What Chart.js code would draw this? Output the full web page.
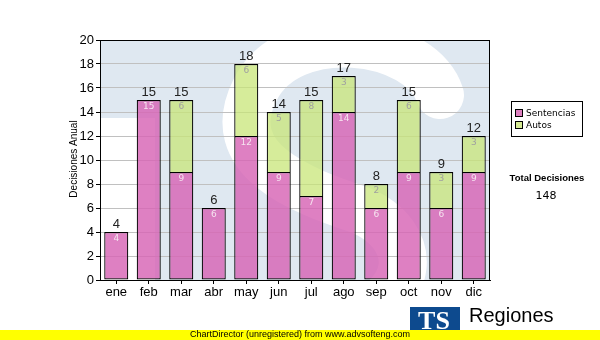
<!DOCTYPE html>
<html>
<head>
<meta charset="utf-8">
<script src="https://cdn.jsdelivr.net/npm/chart.js@4.4.1/dist/chart.umd.min.js"></script>
<style>
  html, body { margin: 0; padding: 0; background: #fff; }
  #wrap { width: 600px; height: 340px; position: relative; }
</style>
</head>
<body>
<div id="wrap"><canvas id="barchart" width="600" height="340"></canvas></div>
<script>
// datos del grafico
var meses = ['ene', 'feb', 'mar', 'abr', 'may', 'jun', 'jul', 'ago', 'sep', 'oct', 'nov', 'dic'];
var sentencias = [4, 15, 9, 6, 12, 9, 7, 14, 6, 9, 6, 9];
var autos = [0, 0, 6, 0, 6, 5, 8, 3, 2, 6, 3, 3];
var yTicks = [0, 2, 4, 6, 8, 10, 12, 14, 16, 18, 20];
var totalDecisiones = 148;

var ctx = document.getElementById('barchart').getContext('2d');

// fondo con la "S" de marca de agua
var fondoPlugin = {
    id: 'fondo',
    beforeDraw: function (chart) {
        var c = chart.ctx, a = chart.chartArea;
        c.save();
        c.beginPath();
        c.rect(a.left, a.top, a.right - a.left, a.bottom - a.top);
        c.clip();
        c.fillStyle = '#dfe8f1';
        c.fillRect(a.left, a.top, a.right - a.left, 78);
        c.fillRect(a.left + 55, a.top + 78, a.right - a.left - 55, a.bottom - a.top - 78);
        c.fillStyle = '#fff';
        c.fillRect(a.left, a.top + 78, 55, a.bottom - a.top - 78);
        // trazo de la S
        c.strokeStyle = '#fff';
        c.lineWidth = 48;
        c.lineCap = 'round';
        c.beginPath();
        c.moveTo(440, 95);
        c.bezierCurveTo(420, 35, 290, 20, 255, 90);
        c.bezierCurveTo(220, 160, 300, 190, 360, 210);
        c.bezierCurveTo(420, 235, 420, 300, 340, 320);
        c.stroke();
        c.restore();
    }
};

// etiquetas, borde, leyenda y textos sueltos
var textosPlugin = {
    id: 'textos',
    afterDraw: function (chart) {
        var c = chart.ctx, a = chart.chartArea;
        var m0 = chart.getDatasetMeta(0), m1 = chart.getDatasetMeta(1);
        c.save();
        c.textAlign = 'center';
        c.textBaseline = 'middle';
        for (var i = 0; i < meses.length; i++) {
            var b0 = m0.data[i], b1 = m1.data[i];
            c.font = '9px "DejaVu Sans"';
            if (sentencias[i] > 0) {
                c.fillStyle = '#f6e4f0';
                c.fillText(sentencias[i], b0.x, b0.y + 7);
            }
            if (autos[i] > 0) {
                c.fillStyle = '#a0a0a0';
                c.fillText(autos[i], b1.x, b1.y + 7);
            }
            var top = autos[i] > 0 ? b1.y : b0.y;
            c.font = '13px "Liberation Sans"';
            c.fillStyle = '#222';
            c.fillText(sentencias[i] + autos[i], b0.x, top - 8);
        }
        // borde del area
        c.strokeStyle = '#000';
        c.lineWidth = 1;
        c.strokeRect(a.left + 0.5, a.top + 0.5, a.right - a.left - 1, a.bottom - a.top);

        // titulo eje y
        c.save();
        c.translate(74, 159);
        c.rotate(-Math.PI / 2);
        c.font = '10px "Liberation Sans"';
        c.fillStyle = '#000';
        c.fillText('Decisiones Anual', 0, 0);
        c.restore();

        // leyenda
        c.strokeStyle = '#000';
        c.strokeRect(511.5, 101.5, 71, 35);
        c.textAlign = 'left';
        c.font = '9px "DejaVu Sans"';
        c.fillStyle = '#dd7fbf';
        c.fillRect(515, 109, 8, 8);
        c.strokeRect(515.5, 109.5, 7, 7);
        c.fillStyle = '#d6eb94';
        c.fillRect(515, 121, 8, 8);
        c.strokeRect(515.5, 121.5, 7, 7);
        c.fillStyle = '#000';
        c.fillText('Sentencias', 526, 113.5);
        c.fillText('Autos', 526, 125.5);

        // total
        c.textAlign = 'center';
        c.font = 'bold 9.5px "Liberation Sans"';
        c.fillText('Total Decisiones', 547, 178);
        c.font = '11px "DejaVu Sans"';
        c.fillText(totalDecisiones, 546, 196);

        // logo
        c.fillStyle = '#0d4a8e';
        c.fillRect(410, 307, 50, 25);
        c.fillStyle = '#fff';
        c.font = 'bold 26px "Liberation Serif"';
        c.fillText('TS', 434, 322);
        c.textAlign = 'left';
        c.fillStyle = '#000';
        c.font = '20px "Liberation Sans"';
        c.fillText('Regiones', 469, 316);

        // franja amarilla
        c.fillStyle = '#ffff00';
        c.fillRect(0, 330, 600, 10);
        c.fillStyle = '#000';
        c.font = '9px "Liberation Sans"';
        c.fillText('ChartDirector (unregistered) from www.advsofteng.com', 190, 335);
        c.restore();
    }
};

var myBarChart = new Chart(ctx, {
    type: 'bar',
    data: {
        labels: meses,
        datasets: [{
            label: 'Sentencias',
            data: sentencias,
            backgroundColor: 'rgba(215,100,180,0.82)',
            borderColor: '#000',
            borderWidth: 1.2,
            borderSkipped: false
        }, {
            label: 'Autos',
            data: autos,
            backgroundColor: 'rgba(200,230,120,0.75)',
            borderColor: '#000',
            borderWidth: 1.2,
            borderSkipped: 'bottom'
        }]
    },
    options: {
        responsive: false,
        maintainAspectRatio: false,
        animation: false,
        layout: { padding: { left: 0, right: 110, top: 40, bottom: 40 } },
        datasets: { bar: { categoryPercentage: 1, barPercentage: 0.74 } },
        plugins: {
            legend: { display: false },
            tooltip: { enabled: false }
        },
        scales: {
            x: {
                stacked: true,
                afterFit: function (s) { s.height = 20; },
                grid: { offset: false, drawOnChartArea: false, tickLength: 4, tickColor: '#000' },
                border: { color: '#000' },
                ticks: { color: '#000', padding: 1, font: { family: 'Liberation Sans', size: 13 } }
            },
            y: {
                stacked: true,
                min: 0,
                max: 20,
                afterFit: function (s) { s.width = 100; },
                afterBuildTicks: function (s) { s.ticks = yTicks.map(function (v) { return { value: v }; }); },
                grid: { color: '#c0c0c0', tickColor: '#000', tickLength: 4 },
                border: { color: '#000' },
                ticks: { color: '#000', padding: 2, font: { family: 'Liberation Sans', size: 13 } }
            }
        }
    },
    plugins: [fondoPlugin, textosPlugin]
});
</script>
</body>
</html>
